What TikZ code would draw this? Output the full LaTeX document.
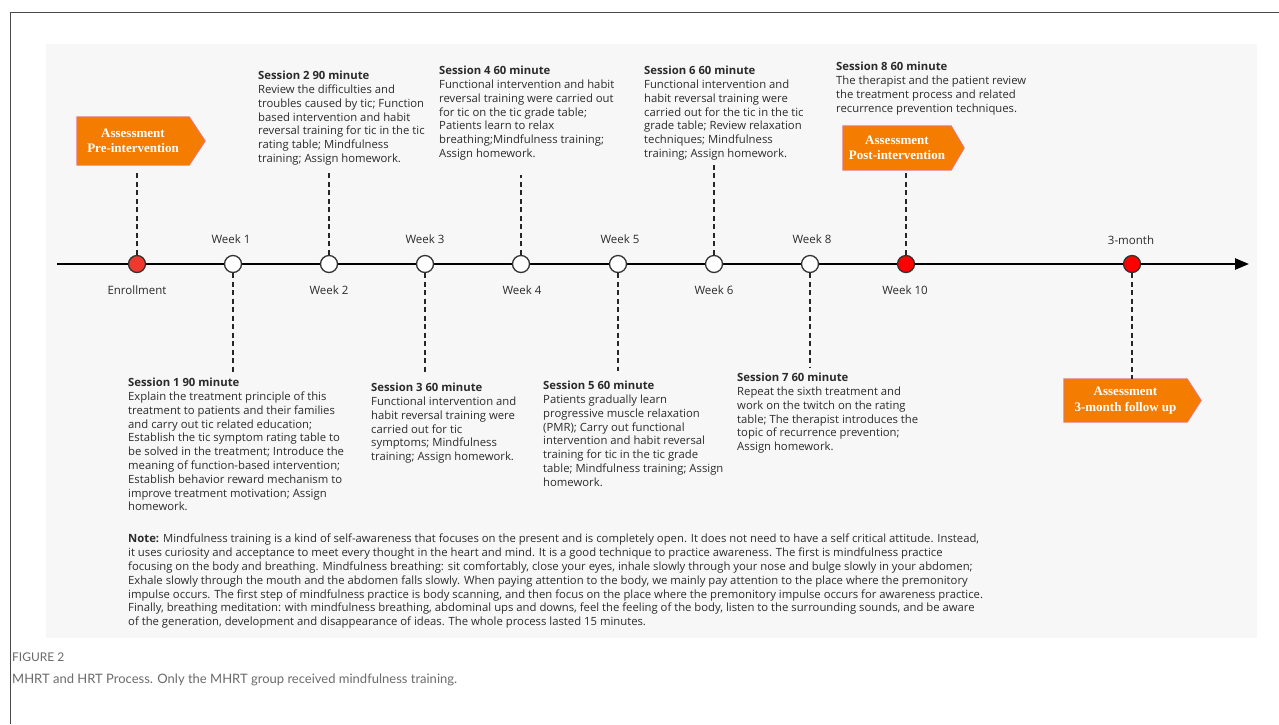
\documentclass[tikz,border=0pt]{standalone}
\usepackage{fontspec}
\setmainfont{Open Sans}
\newfontfamily\serifb{Liberation Serif}
\newfontfamily\capfont{Lato}
\usetikzlibrary{arrows.meta}
\definecolor{panel}{HTML}{F7F7F7}
\definecolor{txt}{HTML}{2B2B2B}
\definecolor{orng}{HTML}{F47C00}
\definecolor{obrd}{HTML}{E8747C}
\definecolor{redA}{HTML}{EE3A2E}
\definecolor{redB}{HTML}{FF0000}
\definecolor{capg}{HTML}{6B6B6B}
\definecolor{frame}{HTML}{4A4A4A}
\tikzset{
  sess/.style={anchor=north west, inner sep=0pt, align=left, font=\fontsize{11.3}{13.8}\selectfont, text=txt},
  wk/.style={circle, draw=black!80, line width=1.3pt, fill=white, minimum size=17pt, inner sep=0pt},
  wkred/.style={wk, fill=redB},
  wlab/.style={font=\fontsize{11.5}{13}\selectfont, text=txt, inner sep=0pt},
  dashl/.style={draw=black!85, line width=1.6pt, dash pattern=on 5pt off 3.5pt},
  abox/.style={fill=orng, inner sep=0pt, align=center, text=white, font=\serifb\bfseries\fontsize{13}{15.5}\selectfont},
  aline/.style={draw=obrd, line width=0.9pt, line join=miter}
}
\begin{document}
\begin{tikzpicture}[x=1pt,y=-1pt]
\useasboundingbox (0,0) rectangle (1279,724);
\fill[white] (0,0) rectangle (1279,724);
% frame
\draw[frame, line width=1pt] (10,724) -- (10,12) -- (1279,12);
% panel
\fill[panel] (46,44) rectangle (1257,638);

% timeline
\coordinate (tstart) at (57,264);
\coordinate (tend) at (1249,264);
\draw[line width=2.4pt, -{Triangle[length=14pt,width=11pt]}] (tstart) -- (tend);

% milestones
\node[wk, fill=redA] (en) at (137,264) {};
\node[wk] (w1) at (233,264) {};
\node[wk] (w2) at (329,264) {};
\node[wk] (w3) at (425,264) {};
\node[wk] (w4) at (521,264) {};
\node[wk] (w5) at (618,264) {};
\node[wk] (w6) at (714,264) {};
\node[wk] (w8) at (810,264) {};
\node[wkred] (w10) at (906,264) {};
\node[wkred] (m3) at (1132,264) {};

% labels
\node[wlab] (len) at (137,290) {Enrollment};
\node[wlab] (lw1) at (231,239) {Week 1};
\node[wlab] (lw2) at (329,290) {Week 2};
\node[wlab] (lw3) at (425,239) {Week 3};
\node[wlab] (lw4) at (522,290) {Week 4};
\node[wlab] (lw5) at (620,239) {Week 5};
\node[wlab] (lw6) at (714,290) {Week 6};
\node[wlab] (lw8) at (812,239) {Week 8};
\node[wlab] (lw10) at (905,290) {Week 10};
\node[wlab] (lm3) at (1131,240) {3-month};

% assessment boxes
\node[abox, minimum width=112pt, minimum height=48pt] (pre) at (133,141) {Assessment\\Pre-intervention};
\fill[orng] (pre.north east) -- ([xshift=16pt]pre.east) -- (pre.south east) -- cycle;
\draw[aline] (pre.north west) -- (pre.north east) -- ([xshift=16pt]pre.east) -- (pre.south east) -- (pre.south west) -- cycle;

\node[abox, minimum width=108pt, minimum height=44pt] (post) at (897,148) {Assessment\\Post-intervention};
\fill[orng] (post.north east) -- ([xshift=13pt]post.east) -- (post.south east) -- cycle;
\draw[aline] (post.north west) -- (post.north east) -- ([xshift=13pt]post.east) -- (post.south east) -- (post.south west) -- cycle;

\node[abox, minimum width=123pt, minimum height=43pt] (fol) at (1125.5,400.5) {Assessment\\3-month follow up};
\fill[orng] (fol.north east) -- ([xshift=14pt]fol.east) -- (fol.south east) -- cycle;
\draw[aline] (fol.north west) -- (fol.north east) -- ([xshift=14pt]fol.east) -- (fol.south east) -- (fol.south west) -- cycle;

% sessions
\node[sess] (s2) at (258,71) {\textbf{Session 2 90 minute}\\Review the difficulties and\\troubles caused by tic; Function\\based intervention and habit\\reversal training for tic in the tic\\rating table; Mindfulness\\training; Assign homework.};
\node[sess] (s4) at (439,66) {\textbf{Session 4 60 minute}\\Functional intervention and habit\\reversal training were carried out\\for tic on the tic grade table;\\Patients learn to relax\\breathing;Mindfulness training;\\Assign homework.};
\node[sess] (s6) at (644,66) {\textbf{Session 6 60 minute}\\Functional intervention and\\habit reversal training were\\carried out for the tic in the tic\\grade table; Review relaxation\\techniques; Mindfulness\\training; Assign homework.};
\node[sess] (s8) at (836,62) {\textbf{Session 8 60 minute}\\The therapist and the patient review\\the treatment process and related\\recurrence prevention techniques.};
\node[sess] (s1) at (128,378) {\textbf{Session 1 90 minute}\\Explain the treatment principle of this\\treatment to patients and their families\\and carry out tic related education;\\Establish the tic symptom rating table to\\be solved in the treatment; Introduce the\\meaning of function-based intervention;\\Establish behavior reward mechanism to\\improve treatment motivation; Assign\\homework.};
\node[sess] (s3) at (371,383) {\textbf{Session 3 60 minute}\\Functional intervention and\\habit reversal training were\\carried out for tic\\symptoms; Mindfulness\\training; Assign homework.};
\node[sess] (s5) at (543,381) {\textbf{Session 5 60 minute}\\Patients gradually learn\\progressive muscle relaxation\\(PMR); Carry out functional\\intervention and habit reversal\\training for tic in the tic grade\\table; Mindfulness training; Assign\\homework.};
\node[sess] (s7) at (737,373) {\textbf{Session 7 60 minute}\\Repeat the sixth treatment and\\work on the twitch on the rating\\table; The therapist introduces the\\topic of recurrence prevention;\\Assign homework.};

% dashed connector ends
\coordinate (cen) at (137,170);
\coordinate (c1) at (233,373);
\coordinate (c2) at (329,170);
\coordinate (c3) at (425,374);
\coordinate (c4) at (521,175);
\coordinate (c5) at (618,371);
\coordinate (c6) at (714,165);
\coordinate (c8) at (810,367);
\draw[dashl] (en) -- (cen);
\draw[dashl] (w1) -- (c1);
\draw[dashl] (w2) -- (c2);
\draw[dashl] (w3) -- (c3);
\draw[dashl] (w4) -- (c4);
\draw[dashl] (w5) -- (c5);
\draw[dashl] (w6) -- (c6);
\draw[dashl] (w8) -- (c8);
\draw[dashl] (w10) -- (w10 |- post.south);
\draw[dashl] (m3) -- (m3 |- fol.north);

% note
\node[sess] (note) at (128,534) {\textbf{Note:} Mindfulness training is a kind of self-awareness that focuses on the present and is completely open. It does not need to have a self critical attitude. Instead,\\it uses curiosity and acceptance to meet every thought in the heart and mind. It is a good technique to practice awareness. The first is mindfulness practice\\focusing on the body and breathing. Mindfulness breathing: sit comfortably, close your eyes, inhale slowly through your nose and bulge slowly in your abdomen;\\Exhale slowly through the mouth and the abdomen falls slowly. When paying attention to the body, we mainly pay attention to the place where the premonitory\\impulse occurs. The first step of mindfulness practice is body scanning, and then focus on the place where the premonitory impulse occurs for awareness practice.\\Finally, breathing meditation: with mindfulness breathing, abdominal ups and downs, feel the feeling of the body, listen to the surrounding sounds, and be aware\\of the generation, development and disappearance of ideas. The whole process lasted 15 minutes.};

% caption
\node[anchor=west, inner sep=0pt, text=capg, font=\capfont\fontsize{12}{14}\selectfont] (fig) at (12,657) {FIGURE 2};
\node[anchor=west, inner sep=0pt, text=capg, font=\capfont\fontsize{13}{16}\selectfont] (cap) at (12,680) {MHRT and HRT Process. Only the MHRT group received mindfulness training.};
\end{tikzpicture}
\end{document}
